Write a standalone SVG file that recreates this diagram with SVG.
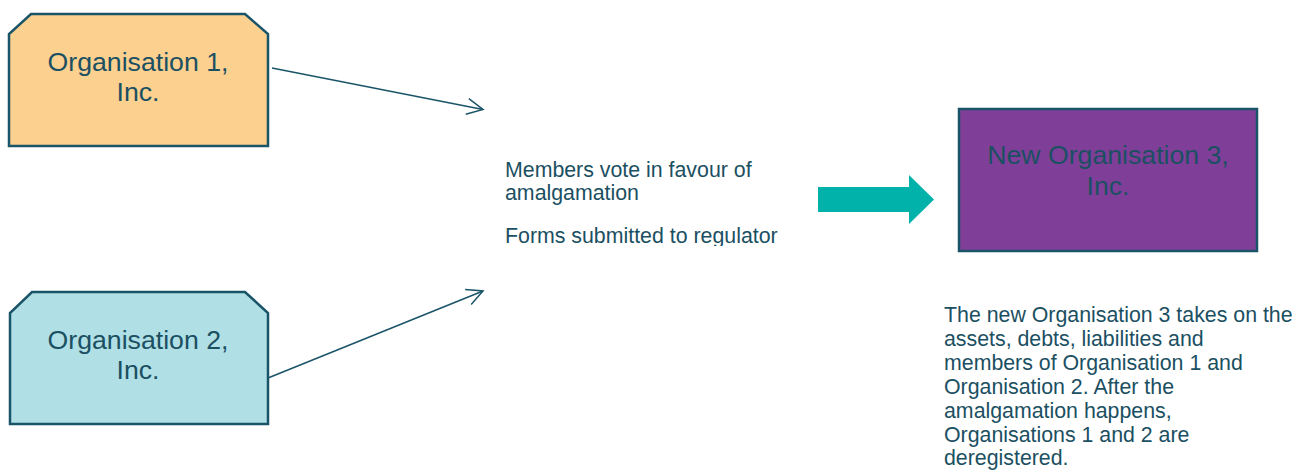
<svg xmlns="http://www.w3.org/2000/svg" width="1308" height="471" viewBox="0 0 1308 471">
  <defs>
    <style>
      .node { stroke: #1a5468; stroke-width: 2.5; }
      .t { font-family: "Liberation Sans", Arial, sans-serif; fill: #1b4f62; }
      .big { font-size: 26.67px; text-anchor: middle; }
      .small { font-size: 21.33px; }
      .conn { stroke: #1a5468; stroke-width: 1.5; fill: none; }
    </style>
    <marker id="open" viewBox="0 0 20 20" refX="18" refY="10" markerWidth="20" markerHeight="20" markerUnits="userSpaceOnUse" orient="auto">
      <path d="M2,2 L18,10 L2,18" fill="none" stroke="#1a5468" stroke-width="1.5"/>
    </marker>
    <clipPath id="midclip">
      <rect x="490" y="150" width="320" height="96"/>
    </clipPath>
  </defs>
  <rect width="1308" height="471" fill="#ffffff"/>

  <g id="org1">
    <path class="node" d="M31,14 L245,14 L268,34 L268,146 L9,146 L9,34 Z" fill="#fcd08f"/>
    <text class="t big" x="138" y="71">Organisation 1,</text>
    <text class="t big" x="138" y="101">Inc.</text>
  </g>

  <g id="org2">
    <path class="node" d="M32,292 L245,292 L268,313 L268,424 L10,424 L10,313 Z" fill="#b0dfe5"/>
    <text class="t big" x="138" y="349">Organisation 2,</text>
    <text class="t big" x="138" y="379">Inc.</text>
  </g>

  <g id="org3">
    <rect class="node" x="959" y="109" width="298" height="142" fill="#7f3f98"/>
    <text class="t big" x="1108" y="164">New Organisation 3,</text>
    <text class="t big" x="1108" y="195">Inc.</text>
  </g>

  <g id="process-text" clip-path="url(#midclip)">
    <text class="t small" x="505" y="177">Members vote in favour of</text>
    <text class="t small" x="505" y="200">amalgamation</text>
    <text class="t small" x="505" y="243">Forms submitted to regulator</text>
  </g>

  <g id="outcome-text">
    <text class="t small" x="944" y="322">The new Organisation 3 takes on the</text>
    <text class="t small" x="944" y="346">assets, debts, liabilities and</text>
    <text class="t small" x="944" y="370">members of Organisation 1 and</text>
    <text class="t small" x="944" y="394">Organisation 2. After the</text>
    <text class="t small" x="944" y="418">amalgamation happens,</text>
    <text class="t small" x="944" y="442">Organisations 1 and 2 are</text>
    <text class="t small" x="944" y="465">deregistered.</text>
  </g>

  <g id="connectors">
    <line class="conn" x1="272" y1="68" x2="483" y2="109.5" marker-end="url(#open)"/>
    <line class="conn" x1="268" y1="378" x2="483" y2="291" marker-end="url(#open)"/>
    <path d="M818,187 L909,187 L909,175 L934,199.5 L909,224 L909,212 L818,212 Z" fill="#00b2aa"/>
  </g>
</svg>
